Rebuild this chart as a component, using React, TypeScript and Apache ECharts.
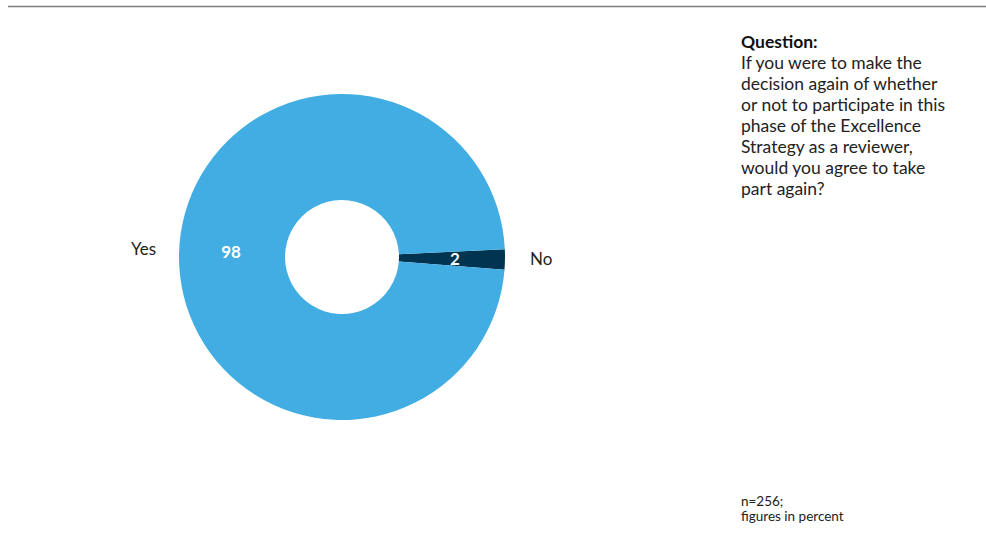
import React, { useEffect, useRef } from "react";
import * as echarts from "echarts";

const categories = ["No", "Yes"];
const values = [2, 98];
const colors = ["#003450", "#41ade3"];
const questionTitle = "Question:";
const questionLines = [
  "If you were to make the",
  "decision again of whether",
  "or not to participate in this",
  "phase of the Excellence",
  "Strategy as a reviewer,",
  "would you agree to take",
  "part again?",
];
const noteLines = ["n=256;", "figures in percent"];

export default function App() {
  const ref = useRef<HTMLDivElement>(null);
  useEffect(() => {
    if (!ref.current) return;
    const chart = echarts.init(ref.current, undefined, { renderer: "svg" });
    const font = "Lato, 'Open Sans', sans-serif";
    const data = categories.map((c, i) => ({
      name: c,
      value: values[i],
      itemStyle: { color: colors[i] },
      label: c === "Yes" ? { offset: [2, -4] } : {},
    }));
    chart.setOption({
      animation: false,
      backgroundColor: "#ffffff",
      series: [
        {
          type: "pie",
          center: [342, 257],
          radius: [57, 163],
          startAngle: 2.7,
          clockwise: true,
          silent: true,
          data,
          label: {
            show: true,
            position: "inside",
            formatter: "{c}",
            color: "#ffffff",
            fontFamily: font,
            fontWeight: "bold",
            fontSize: 17,
          },
          labelLine: { show: false },
          itemStyle: { borderWidth: 0 },
        },
        {
          type: "pie",
          center: [342, 257],
          radius: [57, 163],
          startAngle: 2.7,
          clockwise: true,
          silent: true,
          data: categories.map((c, i) => ({
            name: c,
            value: values[i],
            label: c === "Yes" ? { offset: [2, -6] } : { offset: [0, -1] },
          })),
          itemStyle: { color: "rgba(0,0,0,0)" },
          label: {
            show: true,
            position: "outside",
            formatter: "{b}",
            color: "#222222",
            fontFamily: font,
            fontSize: 17,
          },
          labelLine: { show: false, length: 14, length2: 6 },
        },
      ],
      graphic: [
        {
          type: "line",
          shape: { x1: 8, y1: 6.5, x2: 986, y2: 6.5 },
          style: { stroke: "#7a7a7a", lineWidth: 1.5 },
        },
        {
          type: "text",
          left: 741,
          top: 32,
          style: {
            text: questionTitle,
            font: `bold 17.5px ${font}`,
            fill: "#111111",
          },
        },
        {
          type: "text",
          left: 741,
          top: 52,
          style: {
            text: questionLines.join("\n"),
            font: `17.5px ${font}`,
            lineHeight: 21,
            fill: "#222222",
          },
        },
        {
          type: "text",
          left: 741,
          top: 494,
          style: {
            text: noteLines[0],
            font: `13.5px ${font}`,
            fill: "#222222",
          },
        },
        {
          type: "text",
          left: 741,
          top: 509,
          style: {
            text: noteLines[1],
            font: `13.5px ${font}`,
            fill: "#222222",
          },
        },
      ],
    });
    return () => chart.dispose();
  }, []);
  return (
    <div
      ref={ref}
      style={{ position: "fixed", left: 0, top: 0, width: 986, height: 534 }}
    />
  );
}
